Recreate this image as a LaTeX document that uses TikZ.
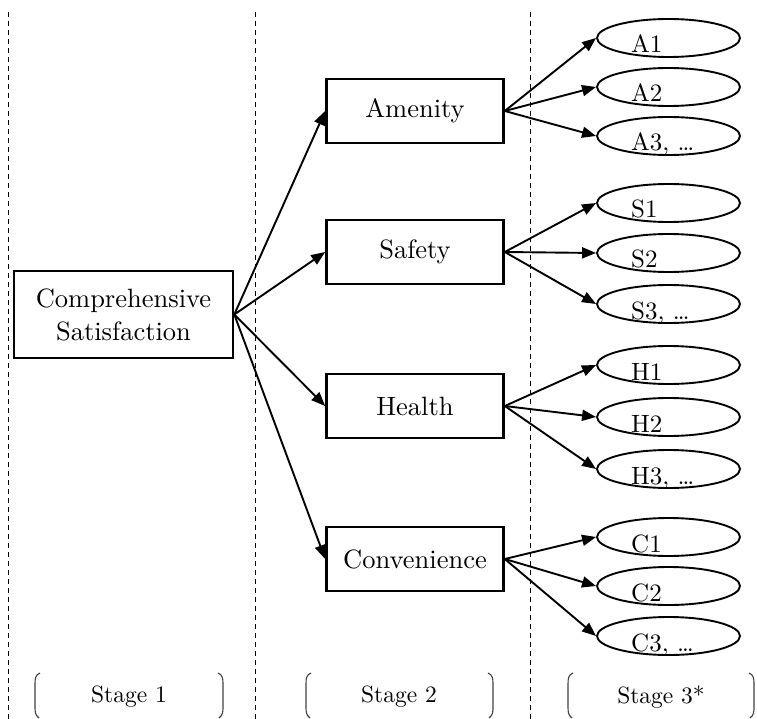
\documentclass[tikz,border=0pt]{standalone}
\usepackage{fontspec}
\setmainfont{lmroman10-regular}[Extension=.otf]
\usetikzlibrary{arrows.meta,shapes.geometric}
\begin{document}
\begin{tikzpicture}[x=1pt,y=-1pt,
  box/.style={draw,line width=2.6pt,minimum width=177pt,minimum height=64pt,inner sep=0pt,font=\fontsize{26.5}{33}\selectfont},
  oval/.style={draw,ellipse,line width=1.9pt,minimum width=143pt,minimum height=38pt,inner sep=0pt},
  olabel/.style={anchor=base west,inner sep=0pt,font=\fontsize{25}{28}\selectfont},
  arr/.style={line width=1.9pt,-{Triangle[length=14pt,width=11pt]}},
  divider/.style={dashed,line width=0.9pt,dash pattern=on 5pt off 4pt},
  brk/.style={line width=1.1pt,draw=black!75},
  stagetxt/.style={font=\fontsize{23.5}{26}\selectfont,inner sep=0pt}]
\useasboundingbox (0,0) rectangle (757,719);
% dividers
\coordinate (d1t) at (8,12);   \coordinate (d1b) at (8,719);
\coordinate (d2t) at (255,12); \coordinate (d2b) at (255,719);
\coordinate (d3t) at (530,12); \coordinate (d3b) at (530,719);
\draw[divider] (d1t) -- (d1b);
\draw[divider] (d2t) -- (d2b);
\draw[divider] (d3t) -- (d3b);
% stage 1
\node[box,minimum width=219pt,minimum height=87pt,align=center] (comp) at (123.5,314.5) {Comprehensive\\Satisfaction};
% stage 2
\node[box] (amen) at (415,111) {Amenity};
\node[box] (safe) at (415,252) {Safety};
\node[box] (heal) at (415,406) {Health};
\node[box] (conv) at (415,559) {Convenience};
\foreach \t in {amen,safe,heal,conv} \draw[arr] (comp.east) -- (\t.west);
% stage 3
\foreach \n/\y/\lab in {a1/38/A1,a2/87/A2,a3/136/{A3, \ldots},
                        s1/203/S1,s2/253/S2,s3/304/{S3, \ldots},
                        h1/365/H1,h2/417/H2,h3/469/{H3, \ldots},
                        c1/537/C1,c2/586/C2,c3/636/{C3, \ldots}}{
  \node[oval] (\n) at (668.5,\y) {};
  \node[olabel] (\n t) at (631,\y+15) {\lab};
}
\foreach \s/\t in {amen/a1,amen/a2,amen/a3,safe/s1,safe/s2,safe/s3,
                   heal/h1,heal/h2,heal/h3,conv/c1,conv/c2,conv/c3}
  \draw[arr] (\s.east) -- (\t.west);
% stage brackets
\foreach \l/\r/\cx/\txt/\nm in {35/223/129/{Stage 1}/st1,306/493/399/{Stage 2}/st2,568/754/661/{Stage 3*}/st3}{
  \draw[brk] (\l+5,673) .. controls (\l,675) and (\l,679) .. (\l,685) -- (\l,706) .. controls (\l,712) and (\l,715) .. (\l+4,718);
  \draw[brk] (\r-5,673) .. controls (\r,675) and (\r,679) .. (\r,685) -- (\r,706) .. controls (\r,712) and (\r,715) .. (\r-4,718);
  \node[stagetxt] (\nm) at (\cx,697) {\txt};
}
\end{tikzpicture}
\end{document}
